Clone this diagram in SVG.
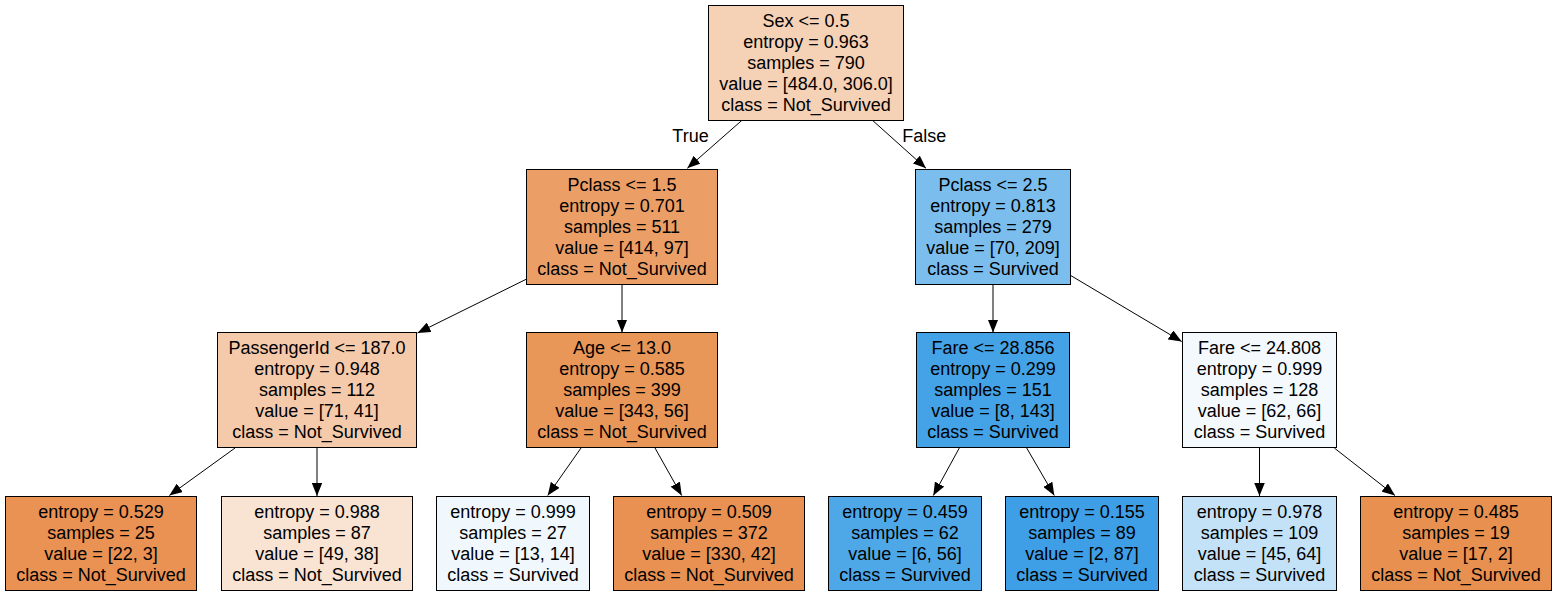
<svg xmlns="http://www.w3.org/2000/svg" width="1557" height="596" viewBox="0 0 1557 596">
<style>
text { font-family: "Liberation Sans", Arial, Helvetica, sans-serif; font-size: 18px; text-anchor: middle; fill: #000; }
rect.n { stroke: #000; stroke-width: 1; }
.edge { stroke: #000; stroke-width: 1; fill: none; marker-end: url(#arr); }
</style>
<defs>
<marker id="arr" viewBox="0 0 13 10.5" refX="13" refY="5.25" markerWidth="13" markerHeight="10.5" markerUnits="userSpaceOnUse" orient="auto">
<path d="M0,0 L13,5.25 L0,10.5 Z" fill="#000" stroke="none"/>
</marker>
</defs>
<rect x="0" y="0" width="1557" height="596" fill="#fff"/>

<g id="connectors">
<line class="edge" x1="741.7" y1="120.5" x2="687.3" y2="168.3"/>
<line class="edge" x1="872.7" y1="120.5" x2="926" y2="168.3"/>
<line class="edge" x1="526.7" y1="279" x2="417.5" y2="333"/>
<line class="edge" x1="622" y1="284.5" x2="622" y2="332.5"/>
<line class="edge" x1="235" y1="448" x2="169.3" y2="495.5"/>
<line class="edge" x1="317" y1="448" x2="317" y2="496"/>
<line class="edge" x1="581" y1="448" x2="547.7" y2="495.5"/>
<line class="edge" x1="655" y1="448" x2="681.7" y2="495.5"/>
<line class="edge" x1="993" y1="284.5" x2="993" y2="332.5"/>
<line class="edge" x1="1071" y1="275.7" x2="1181.7" y2="341.5"/>
<line class="edge" x1="959.3" y1="448" x2="933.3" y2="495.5"/>
<line class="edge" x1="1026.7" y1="448" x2="1054.3" y2="495.5"/>
<line class="edge" x1="1259.5" y1="448" x2="1259.5" y2="496"/>
<line class="edge" x1="1334.3" y1="448" x2="1395" y2="495.5"/>
<text x="690.5" y="141.5">True</text>
<text x="924.3" y="141.5">False</text>
</g>

<g id="node0">
<rect class="n" x="708.5" y="5.5" width="195" height="115" fill="#f5d1b6"/>
<text x="806" y="27">Sex &lt;= 0.5</text>
<text x="806" y="48">entropy = 0.963</text>
<text x="806" y="69">samples = 790</text>
<text x="806" y="90">value = [484.0, 306.0]</text>
<text x="806" y="111">class = Not_Survived</text>
</g>

<g id="node1">
<rect class="n" x="526.5" y="169.5" width="191" height="115" fill="#eb9f67"/>
<text x="622" y="191">Pclass &lt;= 1.5</text>
<text x="622" y="212">entropy = 0.701</text>
<text x="622" y="233">samples = 511</text>
<text x="622" y="254">value = [414, 97]</text>
<text x="622" y="275">class = Not_Survived</text>
</g>

<g id="node2">
<rect class="n" x="915.5" y="169.5" width="155" height="115" fill="#7bbeee"/>
<text x="993" y="191">Pclass &lt;= 2.5</text>
<text x="993" y="212">entropy = 0.813</text>
<text x="993" y="233">samples = 279</text>
<text x="993" y="254">value = [70, 209]</text>
<text x="993" y="275">class = Survived</text>
</g>

<g id="node3">
<rect class="n" x="217.5" y="332.5" width="199" height="115" fill="#f4caab"/>
<text x="317" y="354">PassengerId &lt;= 187.0</text>
<text x="317" y="375">entropy = 0.948</text>
<text x="317" y="396">samples = 112</text>
<text x="317" y="417">value = [71, 41]</text>
<text x="317" y="438">class = Not_Survived</text>
</g>

<g id="node4">
<rect class="n" x="526.5" y="332.5" width="191" height="115" fill="#e99659"/>
<text x="622" y="354">Age &lt;= 13.0</text>
<text x="622" y="375">entropy = 0.585</text>
<text x="622" y="396">samples = 399</text>
<text x="622" y="417">value = [343, 56]</text>
<text x="622" y="438">class = Not_Survived</text>
</g>

<g id="node5">
<rect class="n" x="916.5" y="332.5" width="153" height="115" fill="#44a2e6"/>
<text x="993" y="354">Fare &lt;= 28.856</text>
<text x="993" y="375">entropy = 0.299</text>
<text x="993" y="396">samples = 151</text>
<text x="993" y="417">value = [8, 143]</text>
<text x="993" y="438">class = Survived</text>
</g>

<g id="node6">
<rect class="n" x="1182.5" y="332.5" width="154" height="115" fill="#f3f9fd"/>
<text x="1259.5" y="354">Fare &lt;= 24.808</text>
<text x="1259.5" y="375">entropy = 0.999</text>
<text x="1259.5" y="396">samples = 128</text>
<text x="1259.5" y="417">value = [62, 66]</text>
<text x="1259.5" y="438">class = Survived</text>
</g>

<g id="node7">
<rect class="n" x="5.5" y="496.5" width="191" height="94" fill="#e99254"/>
<text x="101" y="518">entropy = 0.529</text>
<text x="101" y="539">samples = 25</text>
<text x="101" y="560">value = [22, 3]</text>
<text x="101" y="581">class = Not_Survived</text>
</g>

<g id="node8">
<rect class="n" x="221.5" y="496.5" width="191" height="94" fill="#f9e3d3"/>
<text x="317" y="518">entropy = 0.988</text>
<text x="317" y="539">samples = 87</text>
<text x="317" y="560">value = [49, 38]</text>
<text x="317" y="581">class = Not_Survived</text>
</g>

<g id="node9">
<rect class="n" x="436.5" y="496.5" width="153" height="94" fill="#f1f8fd"/>
<text x="513" y="518">entropy = 0.999</text>
<text x="513" y="539">samples = 27</text>
<text x="513" y="560">value = [13, 14]</text>
<text x="513" y="581">class = Survived</text>
</g>

<g id="node10">
<rect class="n" x="613.5" y="496.5" width="191" height="94" fill="#e89152"/>
<text x="709" y="518">entropy = 0.509</text>
<text x="709" y="539">samples = 372</text>
<text x="709" y="560">value = [330, 42]</text>
<text x="709" y="581">class = Not_Survived</text>
</g>

<g id="node11">
<rect class="n" x="828.5" y="496.5" width="153" height="94" fill="#4ea8e8"/>
<text x="905" y="518">entropy = 0.459</text>
<text x="905" y="539">samples = 62</text>
<text x="905" y="560">value = [6, 56]</text>
<text x="905" y="581">class = Survived</text>
</g>

<g id="node12">
<rect class="n" x="1005.5" y="496.5" width="153" height="94" fill="#3e9fe6"/>
<text x="1082" y="518">entropy = 0.155</text>
<text x="1082" y="539">samples = 89</text>
<text x="1082" y="560">value = [2, 87]</text>
<text x="1082" y="581">class = Survived</text>
</g>

<g id="node13">
<rect class="n" x="1182.5" y="496.5" width="154" height="94" fill="#c4e2f7"/>
<text x="1259.5" y="518">entropy = 0.978</text>
<text x="1259.5" y="539">samples = 109</text>
<text x="1259.5" y="560">value = [45, 64]</text>
<text x="1259.5" y="581">class = Survived</text>
</g>

<g id="node14">
<rect class="n" x="1360.5" y="496.5" width="191" height="94" fill="#e89050"/>
<text x="1456" y="518">entropy = 0.485</text>
<text x="1456" y="539">samples = 19</text>
<text x="1456" y="560">value = [17, 2]</text>
<text x="1456" y="581">class = Not_Survived</text>
</g>
</svg>
